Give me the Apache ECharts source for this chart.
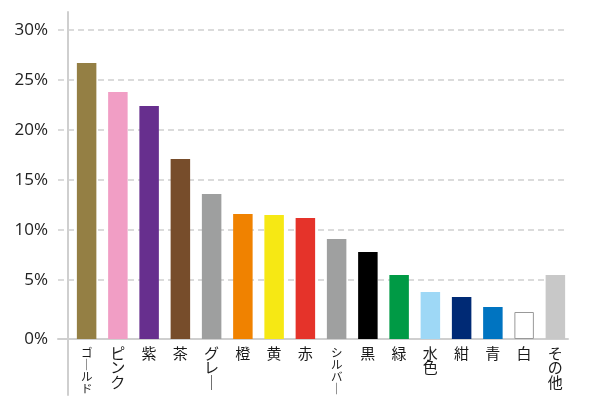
<!DOCTYPE html>
<html>
<head>
<meta charset="utf-8">
<script src="https://cdn.jsdelivr.net/npm/echarts@6/dist/echarts.min.js"></script>
<style>html,body{margin:0;padding:0;background:#fff}#c{width:600px;height:400px}</style>
</head>
<body>
<div id="c"></div>
<script>
// ---- data ----
const categories = ['ゴールド','ピンク','紫','茶','グレー','橙','黄','赤','シルバー','黒','緑','水色','紺','青','白','その他'];
const values = [26.7, 23.8, 22.4, 17.1, 13.6, 11.6, 11.5, 11.2, 9.1, 7.8, 5.5, 3.8, 3.3, 2.3, 1.8, 5.5];
const barColors = ['#947F44','#F19EC5','#672F8E','#774D2B','#9E9F9F','#F08200','#F6E814','#E5332A','#9FA0A0','#000000','#009A45','#9ED8F6','#002A75','#0074C1','#FFFFFF','#C8C8C8'];
const yTickValues = [5, 10, 15, 20, 25, 30];
const yTickLabels = ['0%','5%','10%','15%','20%','25%','30%'];
// the reference draws its baseline (labelled 0%) a little below the 0 position
const axisBase = -0.9;
const yMin = -6.5, yMax = 31.8;

const labelValues = [axisBase].concat(yTickValues);
const chart = echarts.init(document.getElementById('c'));
const gridLine = {color: '#cfcfcf', width: 2};
chart.setOption({
  animation: false,
  grid: [
    {left: 58, right: 32, top: 12, bottom: 5},
    {left: 71, right: 29, top: 12, bottom: 5}
  ],
  xAxis: [
    {gridIndex: 0, type: 'value', min: 0, max: 1, position: 'bottom', offset: -56,
     axisLine: {show: true, onZero: false, lineStyle: gridLine},
     axisTick: {show: false}, axisLabel: {show: false}, splitLine: {show: false}},
    {gridIndex: 1, type: 'category', data: categories, position: 'bottom', offset: -56,
     axisLine: {show: false, onZero: false}, axisTick: {show: false},
     axisLabel: {
       interval: 0, margin: 7, color: '#1a1a1a',
       fontFamily: '"Noto Sans CJK JP", sans-serif',
       formatter: function (name) {
         const chars = Array.from(name).map(c => c === 'ー' ? '｜' : c);
         const tag = chars.length >= 4 ? 's' : 'n';
         return chars.map(c => '{' + tag + '|' + c + '}').join('\n');
       },
       rich: {
         n: {fontSize: 15, lineHeight: 14.5, fontFamily: '"Noto Sans CJK JP", sans-serif', color: '#1a1a1a'},
         s: {fontSize: 11.5, lineHeight: 12.3, fontFamily: '"Noto Sans CJK JP", sans-serif', color: '#1a1a1a'}
       }
     }}
  ],
  yAxis: [
    {gridIndex: 0, type: 'value', min: yMin, max: yMax, offset: -10,
     axisLine: {show: true, onZero: false, lineStyle: gridLine},
     axisTick: {show: false, customValues: yTickValues},
     axisLabel: {
       customValues: labelValues, margin: 20, color: '#222',
       fontSize: 17, fontFamily: '"Open Sans", sans-serif',
       formatter: function (v) {
         const i = labelValues.indexOf(v);
         return i >= 0 ? yTickLabels[i] : '';
       }
     },
     splitLine: {show: true, lineStyle: {color: '#cfcfcf', width: 1.5, type: [6, 4]}}},
    {gridIndex: 1, type: 'value', min: yMin, max: yMax, startValue: axisBase, show: false,
     splitLine: {show: false}}
  ],
  series: [{
    type: 'bar', xAxisIndex: 1, yAxisIndex: 1,
    barWidth: 19.5,
    data: values.map((v, i) => ({
      value: v,
      itemStyle: {color: barColors[i], borderColor: categories[i] === '白' ? '#999' : barColors[i], borderWidth: categories[i] === '白' ? 1 : 0}
    }))
  }]
});
</script>
</body>
</html>
